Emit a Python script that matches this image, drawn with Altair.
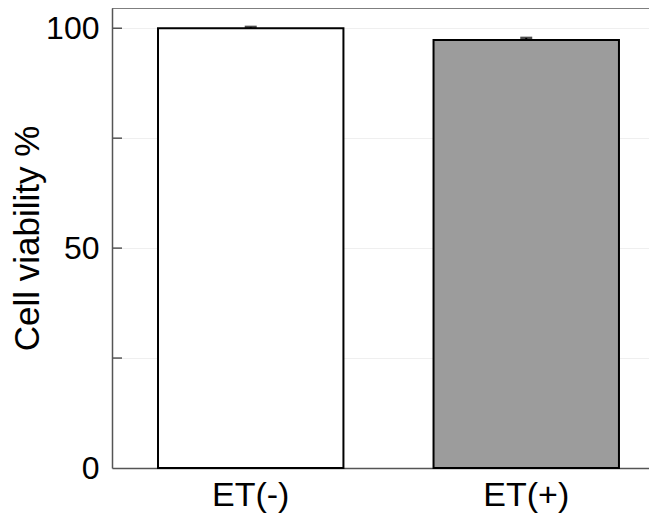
import altair as alt
import pandas as pd

categories = ["ET(-)", "ET(+)"]
values = [100.0, 97.3]
errors = [0.3, 0.5]
fills = ["#ffffff", "#9c9c9c"]
y_ticks = [0, 25, 50, 75, 100]
y_max = 104.6

df = pd.DataFrame({"cat": categories, "val": values, "err": errors})
df["top"] = df["val"] + df["err"]
ticks_df = pd.DataFrame({"t": y_ticks[1:]})

xscale = alt.Scale(domain=categories, paddingInner=0.327, paddingOuter=0.138, align=0.605)
yscale = alt.Scale(domain=[0, y_max], nice=False, zero=True)

base = alt.Chart(df)

bars = base.mark_bar(stroke="black", strokeWidth=2).encode(
    x=alt.X("cat:N", scale=xscale, sort=categories,
            axis=alt.Axis(title=None, labelAngle=0, labelFontSize=34, labelFont="Liberation Sans",
                          labelColor="black", ticks=False, labelPadding=10,
                          domainColor="#555555", domainWidth=1.5, grid=False)),
    y=alt.Y("val:Q", scale=yscale,
            axis=alt.Axis(title="Cell viability %", values=y_ticks,
                          labelExpr="datum.value % 50 == 0 ? datum.label : ''",
                          labelFontSize=32, labelFont="Liberation Sans", labelColor="black",
                          labelPadding=13, ticks=False, domainColor="#555555", domainWidth=1.5,
                          grid=True, gridColor="#efefef", gridWidth=1,
                          titleFontSize=35, titleFont="Liberation Sans", titleFontWeight="normal",
                          titleColor="black", titlePadding=0)),
    fill=alt.Fill("cat:N", scale=alt.Scale(domain=categories, range=fills), legend=None),
)

err_rule = base.mark_rule(color="black", strokeWidth=2).encode(
    x=alt.X("cat:N", scale=xscale, sort=categories),
    y=alt.Y("val:Q", scale=yscale),
    y2="top:Q",
)

caps = base.mark_tick(color="black", size=12, thickness=2.5).encode(
    x=alt.X("cat:N", scale=xscale, sort=categories),
    y=alt.Y("top:Q", scale=yscale),
)

inner_ticks = alt.Chart(ticks_df).mark_rule(color="#555555", strokeWidth=1.5).encode(
    y=alt.Y("t:Q", scale=yscale),
    x=alt.value(0),
    x2=alt.value(10),
)

top_line = alt.Chart(pd.DataFrame({"m": [y_max]})).mark_rule(color="#555555", strokeWidth=1.5).encode(
    y=alt.Y("m:Q", scale=yscale),
)

chart = alt.layer(bars, err_rule, caps, inner_ticks, top_line).properties(
    width=537,
    height=460,
    autosize=alt.AutoSizeParams(type="none"),
    padding={"left": 104, "right": 0, "top": 0, "bottom": 46},
).configure_view(stroke=None)

chart.save("out.html", embed_options={"renderer": "svg", "actions": False})
